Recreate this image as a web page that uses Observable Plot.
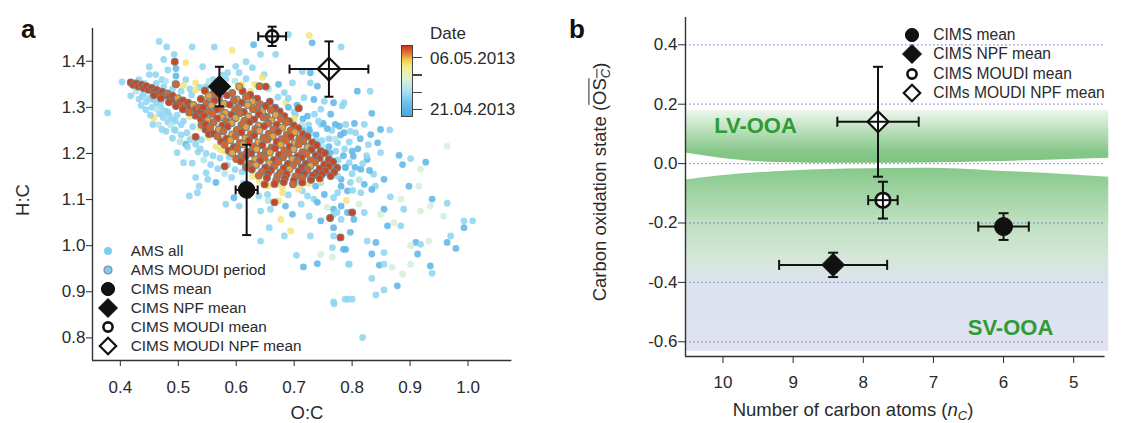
<!DOCTYPE html>
<html><head><meta charset="utf-8">
<script src="https://cdn.jsdelivr.net/npm/d3@7"></script>
<script src="https://cdn.jsdelivr.net/npm/@observablehq/plot@0.6"></script>
<style>
body{margin:0;background:#fff;font-family:"Liberation Sans",Arial,sans-serif;color:#2a2a2a}
#wrap{position:relative;width:1121px;height:423px;overflow:hidden;background:#fff}
#wrap > *{position:absolute}
.t{white-space:nowrap;line-height:1}
</style></head><body><div id="wrap"></div>
<script>
// ---------------- DATA ----------------
// Panel a: AMS points [O:C, H:C, day since 21.04.2013]
const amsAll = [
[0.786,1.310,4],[0.834,1.287,0.5],[0.771,1.263,0.5],[0.789,1.263,4],[0.804,1.265,0.5],[0.821,1.263,4],[0.849,1.252,0.5],[0.865,1.251,4],[0.786,1.245,0.5],[0.806,1.245,4],[0.832,1.241,0.5],[0.844,1.223,0.5],[0.775,1.223,4],[0.800,1.205,0.5],[0.826,1.187,0.5],[0.849,1.202,4],[0.881,1.196,0.5],[0.887,1.176,0.5],[0.901,1.189,4],[0.927,1.181,0.5],[0.789,1.169,4],[0.815,1.166,0.5],[0.837,1.155,4],[0.855,1.144,0.5],[0.781,1.144,0.5],[0.797,1.137,4],[0.821,1.133,0.5],[0.840,1.129,4],[0.898,1.129,0.5],[0.915,1.129,8.5],[0.775,1.115,4],[0.792,1.119,0.5],[0.815,1.115,4],[0.834,1.122,0.5],[0.866,1.106,4],[0.938,1.101,0.5],[0.964,1.092,4],[0.768,1.079,0.5],[0.792,1.072,0.5],[0.821,1.072,4],[0.855,1.079,0.5],[0.889,1.079,4],[0.918,1.075,8.5],[0.781,1.057,4],[0.803,1.057,0.5],[0.861,1.043,0.5],[0.884,1.043,4],[0.993,1.054,4],[1.008,1.054,4],[0.993,1.039,0.5],[0.768,1.021,4],[0.797,1.029,0.5],[0.826,1.010,4],[0.841,1.007,0.5],[0.910,1.007,0.5],[0.918,1.003,4],[0.932,1.010,8.5],[0.964,1.007,0.5],[0.970,1.021,4],[0.979,0.994,0.5],[0.789,0.992,0.5],[0.855,0.985,4],[0.834,0.982,0.5],[0.913,0.982,0.5],[0.901,1.000,8.5],[0.795,0.960,4],[0.847,0.958,0.5],[0.855,0.960,4],[0.935,0.956,0.5],[0.938,0.940,4],[0.834,0.929,4],[0.878,0.913,0.5],[0.855,0.904,4],[0.841,0.893,4],[0.768,0.878,4],[0.792,0.884,4],[0.800,0.884,4],[0.818,0.801,4],
[0.935,1.086,8.5],[0.958,1.064,8.5],[0.884,1.101,8.5],[0.901,0.960,8.5],[0.887,0.938,8.5],[0.869,0.953,8.5],[0.964,1.216,8.5],[0.918,1.166,8.5],[0.849,1.068,8.5],[0.872,1.050,8.5],
[0.467,1.443,4],[0.480,1.431,4],[0.524,1.431,4],[0.562,1.431,4],[0.493,1.415,4],[0.475,1.404,4],[0.513,1.397,13],[0.450,1.388,4],[0.482,1.381,4],[0.496,1.384,0.5],[0.542,1.388,4],[0.450,1.371,4],[0.461,1.371,4],[0.432,1.360,4],[0.403,1.355,4],[0.472,1.360,4],[0.496,1.368,0.5],[0.513,1.360,4],[0.530,1.353,13],[0.438,1.324,4],[0.456,1.317,4],[0.470,1.313,4],[0.444,1.295,4],[0.482,1.290,4],[0.378,1.288,4],[0.458,1.277,13],[0.490,1.274,4],[0.472,1.252,4],[0.493,1.252,4],[0.456,1.263,4],
[0.630,1.436,0.5],[0.668,1.415,4],[0.642,1.415,4],[0.593,1.424,13],[0.726,1.456,13],[0.731,1.440,0.5],[0.781,1.431,4],[0.617,1.399,4],[0.599,1.389,4],[0.648,1.371,4],[0.673,1.350,0.5],[0.697,1.353,4],[0.714,1.378,4],[0.728,1.375,0.5],[0.740,1.346,0.5],[0.728,1.353,4],[0.683,1.332,4],[0.717,1.321,4],[0.734,1.317,0.5],[0.752,1.313,4],[0.768,1.310,0.5],[0.783,1.303,4],[0.686,1.310,13],[0.723,1.281,0.5],[0.746,1.296,4],[0.763,1.285,0.5],[0.778,1.259,0.5],[0.746,1.263,4],[0.700,1.270,13],[0.714,1.252,0.5],[0.728,1.245,4],[0.683,1.252,13],[0.659,1.296,13],[0.605,1.375,4],[0.585,1.375,4],[0.628,1.386,4],[0.690,1.458,4],[0.809,1.335,0.5],[0.831,1.335,4],
[0.498,1.202,4],[0.509,1.180,4],[0.524,1.179,4],[0.530,1.148,4],[0.548,1.158,4],[0.551,1.144,4],[0.565,1.137,0.5],[0.536,1.129,4],[0.533,1.115,4],[0.519,1.108,4],[0.513,1.220,0.5],
[0.596,1.104,0.5],[0.605,1.086,4],[0.582,1.090,4],[0.642,1.075,4],[0.659,1.079,4],[0.673,1.097,13],[0.685,1.086,0.5],[0.697,1.068,0.5],[0.654,1.111,4],[0.677,1.057,13],[0.694,1.032,13],[0.657,1.039,4],[0.683,1.021,4],[0.642,1.010,4],[0.712,1.090,4],[0.726,1.064,4],[0.746,1.054,0.5],[0.768,1.068,4],[0.781,1.086,0.5],[0.734,1.101,4],[0.752,1.111,0.5],[0.768,1.104,4],[0.728,1.021,4],[0.768,1.039,0.5],[0.737,1.129,0.5],[0.714,1.119,4],[0.705,1.137,4],[0.726,1.151,0.5],[0.746,1.137,4],[0.757,1.158,0.5],[0.775,1.151,4],[0.781,1.129,0.5],
[0.704,0.979,4],[0.746,0.981,8.5],[0.766,0.975,8.5],[0.716,0.954,0.5],[0.740,0.961,0.5],[0.769,0.874,4],[0.766,0.996,4],[0.785,0.992,0.5],[0.794,0.960,4],[0.788,0.884,4],
[0.450,1.320,4],[0.462,1.310,4],[0.470,1.300,4],[0.478,1.292,4],[0.485,1.282,4],[0.495,1.270,4],[0.505,1.262,4],[0.455,1.300,4],[0.468,1.286,4],[0.482,1.268,4],[0.495,1.250,4],[0.505,1.240,4],[0.515,1.245,4],[0.525,1.258,4],[0.520,1.230,4],[0.530,1.220,4],[0.540,1.230,4],[0.538,1.210,4],[0.548,1.200,4],[0.560,1.195,4],[0.572,1.190,4],[0.585,1.175,4],[0.598,1.165,4],[0.610,1.160,4],[0.440,1.330,4],[0.445,1.312,4],[0.432,1.318,4],[0.475,1.345,4],[0.490,1.340,4],[0.505,1.335,4],[0.520,1.340,4],[0.548,1.345,4],[0.560,1.360,4],[0.575,1.370,4],
[0.700,1.290,4],[0.715,1.275,0.5],[0.725,1.262,4],[0.738,1.240,0.5],[0.748,1.228,4],[0.760,1.215,0.5],[0.772,1.205,4],[0.785,1.195,0.5],[0.795,1.180,4],[0.805,1.170,0.5],[0.690,1.320,4],[0.705,1.305,0.5],[0.735,1.285,4],[0.750,1.265,0.5],[0.765,1.250,4],[0.780,1.240,0.5],[0.795,1.225,4],[0.810,1.210,0.5],[0.825,1.195,4],[0.760,1.232,4],
[0.452,1.283,4],[0.463,1.296,6],[0.474,1.278,4],[0.487,1.262,6],[0.498,1.283,4],[0.509,1.270,4],[0.466,1.262,6],[0.479,1.248,4],[0.490,1.233,4],[0.503,1.225,6],[0.516,1.214,4],[0.527,1.236,13],[0.534,1.203,4],[0.544,1.186,6],[0.556,1.176,4],[0.568,1.167,4],[0.580,1.156,6],[0.592,1.148,4],[0.573,1.208,13],[0.588,1.192,4],[0.462,1.352,4],[0.478,1.357,6],[0.494,1.352,4],[0.509,1.348,13],[0.523,1.327,4],[0.537,1.343,4],[0.553,1.357,6],[0.569,1.350,13],[0.582,1.361,4],[0.598,1.357,6],[0.617,1.362,4],[0.632,1.350,13],[0.441,1.352,4],[0.427,1.335,6],[0.418,1.325,4],[0.436,1.304,4],[0.450,1.340,6],
[0.690,1.300,0.5],[0.702,1.284,4],[0.713,1.262,6],[0.726,1.251,0.5],[0.737,1.229,4],[0.749,1.214,6],[0.762,1.201,0.5],[0.776,1.186,4],[0.788,1.170,0.5],[0.800,1.156,4],[0.812,1.143,6],[0.742,1.270,4],[0.757,1.254,0.5],[0.771,1.231,6],[0.787,1.210,4],[0.802,1.194,0.5],[0.818,1.178,4],[0.830,1.163,0.5],[0.672,1.322,4],[0.656,1.340,6],[0.797,1.248,4],[0.814,1.232,0.5],[0.828,1.219,4],
[0.612,1.135,4],[0.626,1.122,13],[0.639,1.108,4],[0.655,1.098,6],[0.671,1.133,13],[0.690,1.110,4],[0.708,1.122,13],[0.723,1.108,4],[0.740,1.094,0.5],[0.757,1.083,8.5],[0.774,1.072,4],[0.790,1.098,13],[0.801,1.120,4],[0.812,1.090,8.5],
[0.530,1.338,13],[0.545,1.318,13],[0.560,1.305,13],[0.520,1.280,13],[0.538,1.255,13],[0.552,1.235,13],[0.565,1.215,13],[0.580,1.205,13],[0.600,1.190,13],[0.615,1.175,13],[0.628,1.150,13],[0.640,1.140,13],[0.655,1.130,13],[0.680,1.125,13],[0.700,1.140,13],[0.725,1.135,13],[0.745,1.140,13],[0.760,1.170,13],[0.700,1.275,13],[0.715,1.230,13],[0.735,1.210,13],[0.610,1.350,13],[0.625,1.335,13],[0.585,1.345,13],[0.645,1.365,13],[0.680,1.115,13],[0.735,1.180,8.5],[0.755,1.190,8.5],[0.720,1.160,8.5]
];
// Panel a: AMS points during MOUDI period [O:C, H:C, day]
const amsMoudi = [
[0.418,1.354,18.3],[0.422,1.349,18.3],[0.427,1.352,18.3],[0.431,1.345,18.3],[0.436,1.349,18.3],[0.440,1.342,18.3],[0.445,1.346,18.3],[0.449,1.338,18.3],[0.454,1.342,18.3],[0.458,1.334,18.3],[0.463,1.338,18.3],[0.467,1.330,18.3],[0.472,1.334,18.3],[0.476,1.326,18.3],[0.481,1.330,17.2],[0.485,1.321,18.3],[0.490,1.325,18.3],[0.494,1.316,18.3],[0.499,1.320,15.6],[0.503,1.311,18.3],[0.508,1.315,18.3],[0.512,1.306,17.2],[0.517,1.310,18.3],[0.521,1.301,18.3],[0.526,1.305,15.6],[0.530,1.296,18.3],[0.535,1.300,17.2],[0.539,1.291,18.3],[0.484,1.311,18.3],[0.496,1.303,18.3],[0.508,1.296,18.3],[0.519,1.289,17.2],[0.530,1.282,18.3],[0.539,1.275,18.3],[0.470,1.320,18.3],[0.458,1.326,18.3],[0.540,1.262,17.2],[0.547,1.252,18.3],[0.553,1.242,18.3],
[0.546,1.336,18.3],[0.561,1.330,17.2],[0.574,1.337,15.6],[0.593,1.331,17.2],[0.611,1.335,18.3],[0.624,1.327,18.3],
[0.539,1.318,18.3],[0.553,1.325,15.6],[0.570,1.321,17.2],[0.584,1.326,18.3],[0.601,1.317,15.6],[0.617,1.323,17.2],[0.636,1.319,18.3],
[0.549,1.309,17.2],[0.562,1.314,18.3],[0.579,1.308,15.6],[0.596,1.315,17.2],[0.610,1.310,18.3],[0.628,1.313,15.6],[0.641,1.307,17.2],[0.658,1.312,18.3],
[0.543,1.300,18.3],[0.557,1.304,15.6],[0.573,1.297,17.2],[0.589,1.306,18.3],[0.603,1.300,17.2],[0.620,1.305,15.6],[0.636,1.298,17.2],[0.651,1.303,18.3],[0.667,1.299,18.3],
[0.552,1.291,17.2],[0.566,1.295,18.3],[0.581,1.288,15.6],[0.598,1.294,17.2],[0.613,1.290,18.3],[0.629,1.296,17.2],[0.645,1.289,15.6],[0.660,1.294,17.2],[0.675,1.291,18.3],
[0.545,1.281,18.3],[0.559,1.286,17.2],[0.575,1.279,15.6],[0.592,1.284,18.3],[0.606,1.287,17.2],[0.621,1.280,15.6],[0.639,1.285,18.3],[0.653,1.279,17.2],[0.668,1.284,15.6],[0.683,1.281,18.3],
[0.551,1.272,15.6],[0.567,1.276,18.3],[0.583,1.270,17.2],[0.599,1.277,15.6],[0.614,1.271,17.2],[0.631,1.274,18.3],[0.647,1.278,17.2],[0.661,1.271,15.6],[0.677,1.275,17.2],[0.691,1.270,18.3],
[0.547,1.263,18.3],[0.561,1.267,17.2],[0.576,1.261,18.3],[0.592,1.266,15.6],[0.609,1.262,17.2],[0.623,1.268,18.3],[0.639,1.260,15.6],[0.655,1.265,17.2],[0.670,1.262,18.3],[0.686,1.267,17.2],[0.699,1.261,18.3],
[0.555,1.256,17.2],[0.570,1.252,15.6],[0.585,1.258,18.3],[0.601,1.251,17.2],[0.617,1.257,15.6],[0.633,1.253,17.2],[0.648,1.259,18.3],[0.664,1.252,17.2],[0.679,1.256,15.6],[0.694,1.250,17.2],[0.707,1.255,18.3],
[0.561,1.243,18.3],[0.578,1.248,17.2],[0.593,1.241,15.6],[0.609,1.246,18.3],[0.625,1.242,17.2],[0.640,1.249,15.6],[0.656,1.243,17.2],[0.672,1.247,18.3],[0.687,1.240,17.2],[0.701,1.246,15.6],[0.715,1.242,18.3],
[0.568,1.237,17.2],[0.583,1.232,18.3],[0.599,1.238,17.2],[0.616,1.233,15.6],[0.631,1.239,18.3],[0.647,1.234,17.2],[0.663,1.237,15.6],[0.678,1.231,17.2],[0.694,1.236,18.3],[0.709,1.232,17.2],[0.723,1.237,18.3],
[0.574,1.226,18.3],[0.590,1.229,15.6],[0.606,1.223,17.2],[0.622,1.228,18.3],[0.638,1.224,15.6],[0.654,1.230,17.2],[0.670,1.225,18.3],[0.686,1.228,17.2],[0.701,1.222,15.6],[0.716,1.227,17.2],[0.731,1.224,18.3],
[0.580,1.219,17.2],[0.596,1.214,18.3],[0.612,1.220,15.6],[0.629,1.215,17.2],[0.645,1.218,18.3],[0.661,1.213,17.2],[0.677,1.219,15.6],[0.692,1.215,18.3],[0.708,1.220,17.2],[0.723,1.214,15.6],[0.739,1.218,18.3],
[0.587,1.206,18.3],[0.602,1.210,17.2],[0.619,1.204,18.3],[0.635,1.209,15.6],[0.651,1.205,17.2],[0.667,1.211,18.3],[0.683,1.206,17.2],[0.699,1.209,15.6],[0.714,1.203,17.2],[0.730,1.208,18.3],[0.746,1.205,18.3],
[0.593,1.201,15.6],[0.609,1.196,17.2],[0.626,1.200,18.3],[0.642,1.195,17.2],[0.658,1.202,15.6],[0.674,1.197,18.3],[0.690,1.200,17.2],[0.706,1.194,18.3],[0.721,1.199,17.2],[0.737,1.196,18.3],[0.753,1.201,18.3],
[0.600,1.188,17.2],[0.616,1.193,18.3],[0.633,1.187,15.6],[0.649,1.191,17.2],[0.665,1.186,18.3],[0.681,1.192,17.2],[0.697,1.188,15.6],[0.713,1.191,18.3],[0.728,1.185,17.2],[0.744,1.190,18.3],[0.760,1.187,18.3],
[0.608,1.183,18.3],[0.625,1.178,17.2],[0.641,1.184,18.3],[0.657,1.179,15.6],[0.673,1.182,17.2],[0.689,1.177,18.3],[0.705,1.183,17.2],[0.720,1.178,18.3],[0.736,1.181,17.2],[0.752,1.176,18.3],[0.767,1.182,18.3],
[0.617,1.170,17.2],[0.634,1.175,15.6],[0.650,1.169,18.3],[0.666,1.173,17.2],[0.682,1.168,18.3],[0.698,1.174,17.2],[0.713,1.170,18.3],[0.728,1.173,15.6],[0.744,1.167,18.3],[0.760,1.172,18.3],[0.774,1.169,18.3],
[0.627,1.165,18.3],[0.644,1.160,17.2],[0.660,1.164,18.3],[0.676,1.159,17.2],[0.692,1.166,15.6],[0.708,1.161,18.3],[0.723,1.164,17.2],[0.738,1.158,18.3],[0.754,1.163,18.3],[0.769,1.160,18.3],
[0.639,1.152,17.2],[0.655,1.157,18.3],[0.671,1.151,17.2],[0.687,1.155,18.3],[0.702,1.150,17.2],[0.717,1.156,18.3],[0.732,1.152,18.3],[0.748,1.155,18.3],[0.763,1.151,18.3],
[0.653,1.147,18.3],[0.669,1.142,17.2],[0.684,1.146,18.3],[0.699,1.141,18.3],[0.714,1.147,17.2],[0.729,1.143,18.3],[0.744,1.146,18.3],
[0.666,1.134,18.3],[0.682,1.138,18.3],[0.698,1.133,17.2],[0.714,1.137,18.3],
[0.494,1.399,18.3],[0.496,1.350,17.2],[0.651,1.345,18.3],[0.708,1.298,18.3],[0.649,1.133,18.3],[0.620,1.110,17.2],[0.666,1.094,18.3],[0.762,1.060,18.3],[0.800,1.072,18.3],[0.780,1.018,18.3],[0.640,1.346,17.2],[0.605,1.345,15.6],[0.530,1.236,18.3],[0.580,1.172,18.3]
];
// Date colour scale (days since 21.04.2013)
const dayDomain = [-2.1, 2, 5, 9, 12.5, 14.5, 16.5, 18.7];
const dayColors = ["#4aa6de","#6cc3ec","#a4e0f2","#dcf1d6","#f5ec8e","#f2d048","#e07a30","#c8381c"];
const cbarTickDays = [0, 5, 10, 15];
const cbarTickLabels = ["21.04.2013", "", "", "06.05.2013"];

// Panel a: CIMS means
const seriesA = ["CIMS mean", "CIMS NPF mean", "CIMS MOUDI mean", "CIMS MOUDI NPF mean"];
const aOC = [0.618, 0.571, 0.662, 0.760];
const aOCErr = [0.019, 0.008, 0.024, 0.068];
const aHC = [1.121, 1.345, 1.454, 1.383];
const aHCErr = [0.098, 0.043, 0.021, 0.060];
const aXTicks = [0.4, 0.5, 0.6, 0.7, 0.8, 0.9, 1.0];
const aYTicks = [0.8, 0.9, 1.0, 1.1, 1.2, 1.3, 1.4];
const legendA = ["AMS all", "AMS MOUDI period", "CIMS mean", "CIMS NPF mean", "CIMS MOUDI mean", "CIMS MOUDI NPF mean"];

// Panel b
const seriesB = ["CIMS mean", "CIMS NPF mean", "CIMS MOUDI mean", "CIMs MOUDI NPF mean"];
const bNc = [6.00, 8.43, 7.72, 7.79];
const bNcErr = [0.36, 0.77, 0.21, 0.58];
const bOs = [-0.212, -0.341, -0.123, 0.141];
const bOsErr = [0.045, 0.041, 0.062, 0.185];
const bXTicks = [10, 9, 8, 7, 6, 5];
const bYTicks = [-0.6, -0.4, -0.2, 0.0, 0.2, 0.4];
const bandNc   = [10.535, 10.03, 9.26, 8.24, 7.08, 6.20, 5.18, 4.50];
const lvTop    = [0.180, 0.180, 0.180, 0.180, 0.180, 0.180, 0.180, 0.180];
const lvBottom = [0.036, 0.018, 0.004, 0.001, 0.002, 0.006, 0.013, 0.018];
const svTop    = [-0.055, -0.041, -0.027, -0.018, -0.016, -0.024, -0.036, -0.046];
const svBottom = [-0.632, -0.632, -0.632, -0.632, -0.632, -0.632, -0.632, -0.632];
const bandLabels = ["LV-OOA", "SV-OOA"];

// ---------------- RENDER ----------------
const wrap = document.getElementById("wrap");
const font = '"Liberation Sans", Arial, sans-serif';
const ink = "#2a2a2a";
const fmt1 = d => d.toFixed(1);

const circleSym = d3.symbolCircle, diamondSym = d3.symbolDiamond2;
const hCap = (w) => ({draw(c){ c.moveTo(-w,0); c.lineTo(w,0); }});
const vCap = (w) => ({draw(c){ c.moveTo(0,-w); c.lineTo(0,w); }});
const dR = h => h / (0.62625 * Math.sqrt(Math.PI));

const markerStyle = {
  0: {symbol: circleSym, fill: "#111", stroke: "#111", sw: 1},
  1: {symbol: diamondSym, fill: "#111", stroke: "#111", sw: 1},
  2: {symbol: circleSym, fill: "#fff", stroke: "#111", sw: 2.6},
  3: {symbol: diamondSym, fill: "#fff", stroke: "#111", sw: 2.2}
};

function meanMarks(rows, sizes, capW, lw) {
  const marks = [];
  rows.forEach((d, i) => {
    const st = markerStyle[i];
    marks.push(Plot.dot([d], {x: "x", y: "y", symbol: st.symbol, r: sizes[i], fill: st.fill, stroke: st.stroke, strokeWidth: st.sw}));
  });
  marks.push(Plot.link(rows, {x1: d => d.x - d.ex, x2: d => d.x + d.ex, y1: "y", y2: "y", stroke: "#111", strokeWidth: lw}));
  marks.push(Plot.link(rows, {x1: "x", x2: "x", y1: d => d.y - d.ey, y2: d => d.y + d.ey, stroke: "#111", strokeWidth: lw}));
  marks.push(Plot.dot(rows.flatMap(d => [{x: d.x - d.ex, y: d.y}, {x: d.x + d.ex, y: d.y}]), {x: "x", y: "y", symbol: vCap(capW), fill: "none", stroke: "#111", strokeWidth: lw}));
  marks.push(Plot.dot(rows.flatMap(d => [{x: d.x, y: d.y - d.ey}, {x: d.x, y: d.y + d.ey}]), {x: "x", y: "y", symbol: hCap(capW), fill: "none", stroke: "#111", strokeWidth: lw}));
  return marks;
}

// ----- Panel a -----
const aXDomain = [0.352, 1.0757], aYDomain = [0.751, 1.471];
const amsRows = amsAll.map(([oc, hc, day]) => ({oc, hc, day}));
const moudiRows = amsMoudi.map(([oc, hc, day]) => ({oc, hc, day}));
const meanA = seriesA.map((s, i) => ({s, x: aOC[i], y: aHC[i], ex: aOCErr[i], ey: aHCErr[i]}));

const svgA = Plot.plot({
  width: 560, height: 423,
  marginLeft: 92, marginRight: 48.6, marginTop: 28, marginBottom: 63,
  style: {fontFamily: font, fontSize: "17px", color: ink, background: "none", overflow: "visible"},
  x: {domain: aXDomain, ticks: aXTicks, tickFormat: fmt1, tickSize: 6, tickPadding: 14, label: null},
  y: {domain: aYDomain, ticks: aYTicks, tickFormat: fmt1, tickSize: 6, tickPadding: 1, label: null},
  color: {type: "linear", domain: dayDomain, range: dayColors},
  marks: [
    Plot.dot(amsRows, {x: "oc", y: "hc", r: 3.4, fill: "day", fillOpacity: 0.88}),
    Plot.dot(moudiRows, {x: "oc", y: "hc", r: 3.4, fill: "day", stroke: "#7d7d7d", strokeWidth: 1.1}),
    ...meanMarks(meanA, [8.3, dR(11.2), 6, dR(11.3)], 4.5, 2),
    Plot.ruleX([aXDomain[0]], {stroke: "#333", strokeWidth: 1.4}),
    Plot.ruleY([aYDomain[0]], {stroke: "#333", strokeWidth: 1.4})
  ]
});
svgA.style.left = "0px"; svgA.style.top = "0px";
wrap.appendChild(svgA);

// ----- Panel b -----
const bXDomain = [10.535, 4.552], bYDomain = [-0.6495, 0.492];
const bandRows = bandNc.map((nc, i) => ({nc, lvTop: lvTop[i], lvBottom: lvBottom[i], svTop: svTop[i], svBottom: svBottom[i]}));
const meanB = seriesB.map((s, i) => ({s, x: bNc[i], y: bOs[i], ex: bNcErr[i], ey: bOsErr[i]}));

const svgB = Plot.plot({
  width: 561, height: 423,
  marginLeft: 125, marginRight: 16.4, marginTop: 17, marginBottom: 67,
  style: {fontFamily: font, fontSize: "17px", color: ink, background: "none", overflow: "visible"},
  x: {domain: bXDomain, ticks: bXTicks, tickFormat: d => String(d), tickSize: 7, tickPadding: 12, label: null},
  y: {domain: bYDomain, ticks: bYTicks, tickFormat: fmt1, tickSize: 7, tickPadding: 1, label: null},
  marks: [
    Plot.areaY(bandRows, {x: "nc", y1: "lvBottom", y2: "lvTop", fill: "url(#lvGrad)", curve: "monotone-x"}),
    Plot.areaY(bandRows, {x: "nc", y1: "svBottom", y2: "svTop", fill: "url(#svGrad)", curve: "monotone-x"}),
    Plot.ruleY(bYTicks, {stroke: "#8c8ce8", strokeWidth: 1.3, strokeDasharray: "1.6,2.4"}),
    Plot.text([bandLabels[0]], {frameAnchor: "top-left", dx: 70, dy: 108, text: d => d, fill: "#2f9a36", fontWeight: "bold", fontSize: 22, textAnchor: "middle", lineAnchor: "middle"}),
    Plot.text([bandLabels[1]], {frameAnchor: "top-left", dx: 325, dy: 310, text: d => d, fill: "#2f9a36", fontWeight: "bold", fontSize: 22, textAnchor: "middle", lineAnchor: "middle"}),
    ...meanMarks(meanB, [9, dR(11.5), 7.3, dR(10.5)], 5, 2),
    Plot.ruleX([bXDomain[0]], {stroke: "#333", strokeWidth: 1.4}),
    Plot.ruleY([bYDomain[0]], {stroke: "#333", strokeWidth: 1.4})
  ]
});
const defs = d3.select(svgB).insert("defs", ":first-child");
function grad(id, stops) {
  const g = defs.append("linearGradient").attr("id", id).attr("x1", 0).attr("y1", 0).attr("x2", 0).attr("y2", 1);
  stops.forEach(([o, c]) => g.append("stop").attr("offset", o).attr("stop-color", c));
}
grad("lvGrad", [[0, "#eef7ee"], [0.4, "#b9dfba"], [0.8, "#86c789"], [1, "#7fc382"]]);
grad("svGrad", [[0, "#87c98a"], [0.3, "#bfe0c0"], [0.5, "#d5e7da"], [0.66, "#dde2ef"], [1, "#dfe2f2"]]);
svgB.style.left = "560px"; svgB.style.top = "0px";
wrap.appendChild(svgB);

// ----- HTML text / legends -----
function text(html, x, y, opts = {}) {
  const el = document.createElement("div");
  el.className = "t";
  el.innerHTML = html;
  el.style.left = x + "px"; el.style.top = y + "px";
  el.style.fontSize = (opts.size || 17) + "px";
  if (opts.bold) el.style.fontWeight = "bold";
  if (opts.color) el.style.color = opts.color;
  const tx = opts.anchor === "middle" ? "-50%" : "0";
  el.style.transform = `translate(${tx},-50%)` + (opts.rotate ? " rotate(-90deg)" : "");
  wrap.appendChild(el);
  return el;
}
function symbolSvg(kind, cx, cy) {
  const ns = "http://www.w3.org/2000/svg";
  const s = document.createElementNS(ns, "svg");
  s.setAttribute("width", 30); s.setAttribute("height", 30);
  s.style.left = (cx - 15) + "px"; s.style.top = (cy - 15) + "px"; s.style.overflow = "visible";
  const p = document.createElementNS(ns, "path");
  p.setAttribute("transform", "translate(15,15)");
  const def = {
    amsAll: [circleSym, Math.PI * 4 * 4, "#7ccdf0", "none", 0],
    amsMoudi: [circleSym, Math.PI * 4 * 4, "#7ccdf0", "#888", 1.2],
    mean: [circleSym, Math.PI * 6.6 * 6.6, "#111", "#111", 1],
    npf: [diamondSym, (9.5 / 0.62625) ** 2, "#111", "#111", 1],
    moudi: [circleSym, Math.PI * 4.6 * 4.6, "#fff", "#111", 2.6],
    moudiNpf: [diamondSym, (8.2 / 0.62625) ** 2, "#fff", "#111", 2.2]
  }[kind];
  p.setAttribute("d", d3.symbol(def[0], def[1])());
  p.setAttribute("fill", def[2]); p.setAttribute("stroke", def[3]); p.setAttribute("stroke-width", def[4]);
  s.appendChild(p);
  wrap.appendChild(s);
}

text("a", 21, 29, {size: 26, bold: true, color: "#111"});
text("b", 569, 29, {size: 26, bold: true, color: "#111"});

text("O:C", 307, 413, {anchor: "middle", size: 18.5});
text("H:C", 23, 200, {anchor: "middle", size: 18.5, rotate: true});

const legKindsA = ["amsAll", "amsMoudi", "mean", "npf", "moudi", "moudiNpf"];
const legRowsA = [250.7, 270, 289.3, 308.3, 326.7, 346];
legendA.forEach((lab, i) => { symbolSvg(legKindsA[i], 108.3, legRowsA[i]); text(lab, 130.7, legRowsA[i], {size: 15.3}); });

const cb = document.createElement("div");
const cbTop = 45, cbBot = 116.7, cbLeft = 400.7, cbW = 12;
const dmin = dayDomain[0], dmax = dayDomain[dayDomain.length - 1];
const stops = dayDomain.map((d, i) => `${dayColors[i]} ${((d - dmin) / (dmax - dmin) * 100).toFixed(1)}%`).join(",");
Object.assign(cb.style, {left: cbLeft + "px", top: cbTop + "px", width: cbW + "px", height: (cbBot - cbTop) + "px",
  boxSizing: "border-box", border: "1px solid #444", background: `linear-gradient(to top, ${stops})`});
wrap.appendChild(cb);
const dayY = d => cbBot - (d - dmin) / (dmax - dmin) * (cbBot - cbTop);
cbarTickDays.forEach((d, i) => {
  const tk = document.createElement("div");
  Object.assign(tk.style, {left: (cbLeft + cbW - 1) + "px", top: (dayY(d) - 0.7) + "px", width: "10px", height: "1.4px", background: "#444"});
  wrap.appendChild(tk);
  if (cbarTickLabels[i]) text(cbarTickLabels[i], 430, dayY(d), {size: 17});
});
text("Date", 430, 33, {size: 17});

text('Carbon oxidation state (<span style="text-decoration:overline">OS<sub style="font-size:0.7em;font-style:italic;vertical-align:-0.25em">C</sub></span>)', 602, 182, {anchor: "middle", size: 18.5, rotate: true});
text('Number of carbon atoms (<i>n</i><sub style="font-size:0.7em;font-style:italic;vertical-align:-0.25em">C</sub>)', 853, 412, {anchor: "middle", size: 18.5});

const legKindsB = ["mean", "npf", "moudi", "moudiNpf"];
const legRowsB = [35, 54.3, 74, 93.3];
seriesB.forEach((lab, i) => { symbolSvg(legKindsB[i], 911.8, legRowsB[i]); text(lab, 933.2, legRowsB[i], {size: 15.6}); });
</script></body></html>
